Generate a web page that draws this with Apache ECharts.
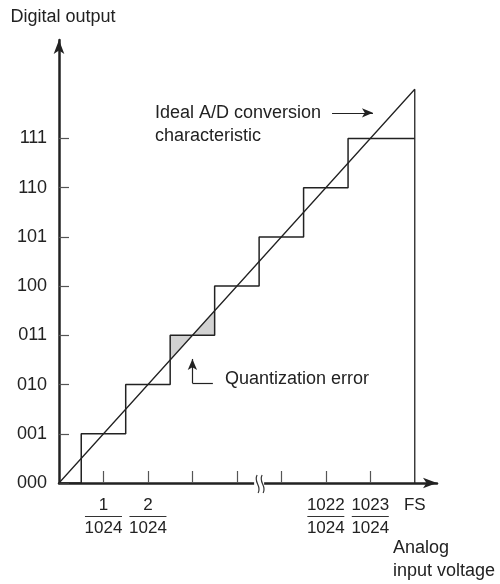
<!DOCTYPE html>
<html>
<head>
<meta charset="utf-8">
<script src="https://cdn.jsdelivr.net/npm/echarts@6/dist/echarts.min.js"></script>
<style>
  html, body { margin: 0; padding: 0; background: #fff; }
  #chart { width: 500px; height: 584px; }
</style>
</head>
<body>
<div id="chart"></div>
<script>
// output codes on the y axis
var yCodes = ['000', '001', '010', '011', '100', '101', '110', '111'];
var yLevels = [0, 1, 2, 3, 4, 5, 6, 7];
// x axis (in LSB steps, with a break after 4)
var xTickPos = [1, 2, 3, 4, 5, 6, 7];
var xLabelPos = [1, 2, 6, 7, 8];
var xLabelNum = ['1', '2', '1022', '1023', 'FS'];
var xLabelDen = ['1024', '1024', '1024', '1024', ''];
var breakPos = 4.5;
// where the code goes up by one
var stepEdges = [0.5, 1.5, 2.5, 3.5, 4.5, 5.5, 6.5];
var fullScale = 8;
// ideal characteristic, then drop at FS
var idealLine = [[0, 0], [8, 8], [8, 0]];
// shaded quantization error around code 011
var errZones = [
  [[2.5, 2.5], [2.5, 3], [3, 3]],
  [[3, 3], [3.5, 3], [3.5, 3.5]]
];
// annotation arrows
var idealArrow = [[6.14, 7.52], [7.06, 7.52]];
var quantArrow = [[3.46, 2.03], [3.0, 2.03], [3.0, 2.52]];

var FONT = '"Liberation Sans", Arial, Helvetica, sans-serif';
var INK = '#222';

// staircase from the step edges
var stairs = [[0, 0]];
for (var i = 0; i < stepEdges.length; i++) {
  stairs.push([stepEdges[i], yLevels[i]]);
  stairs.push([stepEdges[i], yLevels[i] + 1]);
}
stairs.push([fullScale, yLevels[yLevels.length - 1]]);

var chart = echarts.init(document.getElementById('chart'));

var option = {
  animation: false,
  backgroundColor: '#fff',
  grid: { left: 59, right: 63, top: 40, bottom: 101 },
  xAxis: {
    type: 'value',
    min: 0,
    max: 8.5,
    splitLine: { show: false },
    axisLine: {
      lineStyle: { color: INK, width: 2.5 },
      symbol: ['none', 'arrow'],
      symbolSize: [8, 14],
      symbolOffset: [0, 0]
    },
    axisTick: {
      inside: true,
      length: 12,
      customValues: xTickPos,
      lineStyle: { color: '#555', width: 1.2 }
    },
    axisLabel: {
      margin: 12,
      customValues: xLabelPos,
      formatter: function (v) {
        var k = xLabelPos.indexOf(v);
        if (k < 0) return '';
        if (!xLabelDen[k]) return '{n|' + xLabelNum[k] + '}';
        return '{n|' + xLabelNum[k] + '}\n{b| }\n{d|' + xLabelDen[k] + '}';
      },
      rich: {
        n: { fontFamily: FONT, fontSize: 17, color: INK, lineHeight: 20, align: 'center' },
        b: { width: 37, height: 1, lineHeight: 3, fontSize: 1, backgroundColor: '#333', align: 'center' },
        d: { fontFamily: FONT, fontSize: 17, color: INK, lineHeight: 20, align: 'center' }
      }
    }
  },
  yAxis: {
    type: 'value',
    min: 0,
    max: 9,
    name: 'Digital output',
    nameLocation: 'end',
    nameGap: 14,
    nameTextStyle: { fontFamily: FONT, fontSize: 18, color: INK, padding: [0, 0, 0, 8] },
    splitLine: { show: false },
    axisLine: {
      lineStyle: { color: INK, width: 2.5 },
      symbol: ['none', 'arrow'],
      symbolSize: [8, 14],
      symbolOffset: [0, 0]
    },
    axisTick: {
      inside: true,
      length: 10,
      customValues: yLevels,
      lineStyle: { color: '#555', width: 1.2 }
    },
    axisLabel: {
      margin: 12,
      customValues: yLevels,
      fontFamily: FONT,
      fontSize: 18,
      color: INK,
      formatter: function (v) { return yCodes[v] || ''; }
    }
  },
  series: [
    {
      type: 'custom',
      z: 1,
      silent: true,
      data: errZones.map(function (z, i) { return [i]; }),
      renderItem: function (params, api) {
        var pts = errZones[params.dataIndex].map(function (p) { return api.coord(p); });
        return { type: 'polygon', shape: { points: pts }, style: { fill: '#d2d2d2', stroke: 'none' } };
      }
    },
    {
      type: 'line',
      z: 3,
      silent: true,
      data: stairs,
      symbol: 'none',
      lineStyle: { color: INK, width: 1.5 }
    },
    {
      type: 'line',
      z: 3,
      silent: true,
      data: idealLine,
      symbol: 'none',
      lineStyle: { color: INK, width: 1.3 },
      markLine: {
        silent: true,
        animation: false,
        label: { show: false },
        lineStyle: { color: INK, width: 1.2, type: 'solid' },
        symbolSize: [7, 11],
        data: [
          [{ coord: idealArrow[0], symbol: 'none' }, { coord: idealArrow[1], symbol: 'arrow' }],
          [{ coord: quantArrow[0], symbol: 'none' }, { coord: quantArrow[1], symbol: 'none' }],
          [{ coord: quantArrow[1], symbol: 'none' }, { coord: quantArrow[2], symbol: 'arrow' }]
        ]
      }
    }
  ]
};

chart.setOption(option);

// axis break marker and free text, placed from the axis scale
var bx = chart.convertToPixel({ xAxisIndex: 0 }, breakPos);
var by = chart.convertToPixel({ yAxisIndex: 0 }, 0);
var textStyle = function (t, lh) {
  return { text: t, font: '18px ' + FONT, fill: INK, lineHeight: lh || 23 };
};
chart.setOption({
  graphic: [
    { type: 'rect', z: 100, shape: { x: bx - 5, y: by - 5, width: 10, height: 10 }, style: { fill: '#fff' } },
    { type: 'bezierCurve', z: 101, shape: { x1: bx - 2, y1: by - 8, x2: bx - 1, y2: by + 10, cpx1: bx - 6, cpy1: by - 1, cpx2: bx + 3, cpy2: by + 3 }, style: { stroke: '#333', lineWidth: 1.2, fill: 'none' } },
    { type: 'bezierCurve', z: 101, shape: { x1: bx + 3, y1: by - 8, x2: bx + 4, y2: by + 10, cpx1: bx - 1, cpy1: by - 1, cpx2: bx + 8, cpy2: by + 3 }, style: { stroke: '#333', lineWidth: 1.2, fill: 'none' } },
    { type: 'text', left: 155, top: 102, style: textStyle('Ideal A/D conversion\ncharacteristic', 23) },
    { type: 'text', left: 225, top: 368, style: textStyle('Quantization error') },
    { type: 'text', left: 393, top: 537, style: textStyle('Analog\ninput voltage', 23) }
  ]
});
</script>
</body>
</html>
